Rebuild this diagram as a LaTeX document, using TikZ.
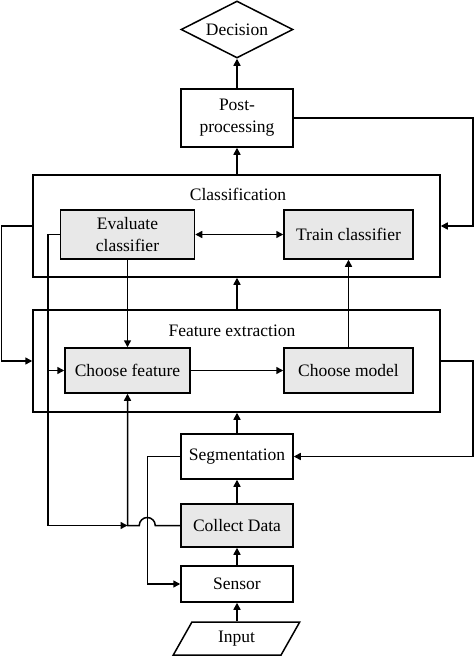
\documentclass[tikz,border=0pt]{standalone}
\usepackage{fontspec}
\setmainfont{Liberation Serif}
\usetikzlibrary{shapes.geometric,arrows.meta}
\begin{document}
\begin{tikzpicture}[x=1pt,y=-1pt,
  every node/.style={font=\fontsize{17.5}{22}\selectfont, align=center, inner sep=0pt},
  box/.style={draw, line width=1.5pt, rectangle},
  graybox/.style={box, fill=gray!18},
  container/.style={draw, line width=1.5pt, rectangle},
  tip/.tip={Triangle[length=7pt,width=7pt]},
  arr/.style={line width=1.5pt, -tip},
  ln/.style={line width=1.5pt},
]
\useasboundingbox (0,0) rectangle (474,656);

\node[draw, diamond, line width=1.5pt, aspect=1.93, minimum width=112pt, minimum height=57pt] (dec) at (237,29.5) {Decision};
\node[box, minimum width=112pt, minimum height=58pt] (post) at (237,118) {Post-\\processing};

\node[container, minimum width=407pt, minimum height=102pt] (cls) at (236.5,226) {};
\node (clslab) at (238,194) {Classification};
\node[graybox, minimum width=134pt, minimum height=49pt] (eval) at (127.5,234.5) {Evaluate\\classifier};
\node[graybox, minimum width=129pt, minimum height=49pt] (train) at (348.5,234.5) {Train classifier};

\node[container, minimum width=407pt, minimum height=102pt] (fe) at (236.5,361) {};
\node (felab) at (232,331) {Feature extraction};
\node[graybox, minimum width=125pt, minimum height=45pt] (cf) at (127.5,370.5) {Choose feature};
\node[graybox, minimum width=129pt, minimum height=45pt] (cm) at (348.5,370.5) {Choose model};

\node[box, minimum width=112pt, minimum height=45pt] (seg) at (237,456.5) {Segmentation};
\node[graybox, minimum width=112pt, minimum height=43pt] (col) at (237,525.5) {Collect Data};
\node[box, minimum width=112pt, minimum height=36pt] (sen) at (237,584) {Sensor};
\node[draw, line width=1.5pt, trapezium, trapezium stretches=true, trapezium left angle=63, trapezium right angle=117, minimum width=127pt, minimum height=33pt] (inp) at (236.5,638.5) {Input};

% main vertical flow
\draw[arr] (inp.north -| sen.south) -- (sen.south);
\draw[arr] (sen) -- (col);
\draw[arr] (col) -- (seg);
\draw[arr] (seg.north) -- (fe.south -| seg.north);
\draw[arr] (fe.north -| seg.north) -- (cls.south -| seg.north);
\draw[arr] (cls.north -| post.south) -- (post.south);
\draw[arr] (post.north) -- (dec.south);

% inside boxes
\draw[line width=1.5pt, tip-tip] (eval.east) -- (train.west);
\draw[arr] (cf.east) -- (cm.west);
\draw[arr] (cm.north) -- (cm.north |- train.south);
\draw[arr] (eval.south) -- (eval.south |- cf.north);

% right loops
\draw[arr] (post.east) -- ++(179,0) |- (cls.east);
\draw[arr] (fe.east) -- ++(32,0) |- (seg.east);

% left loop
\draw[arr] (cls.west) -- ++(-31,0) |- (fe.west);

% evaluate classifier feedback
\draw[ln] (eval.west) -- ++(-12,0) coordinate (e1) -- (e1 |- col.west) coordinate (e2);
\draw[arr] (e2) -- (cf.south |- col.west);
\draw[arr] (e1 |- cf.west) -- (cf.west);

% segmentation to sensor
\draw[arr] (seg.west) -- ++(-33,0) |- (sen.west);

% collect data to choose feature, hopping over the segmentation line
\draw[arr] (col.west) -- ++(-25,0) arc[start angle=0, end angle=180, radius=8pt] -- (cf.south |- col.west) -- (cf.south);
\end{tikzpicture}
\end{document}
